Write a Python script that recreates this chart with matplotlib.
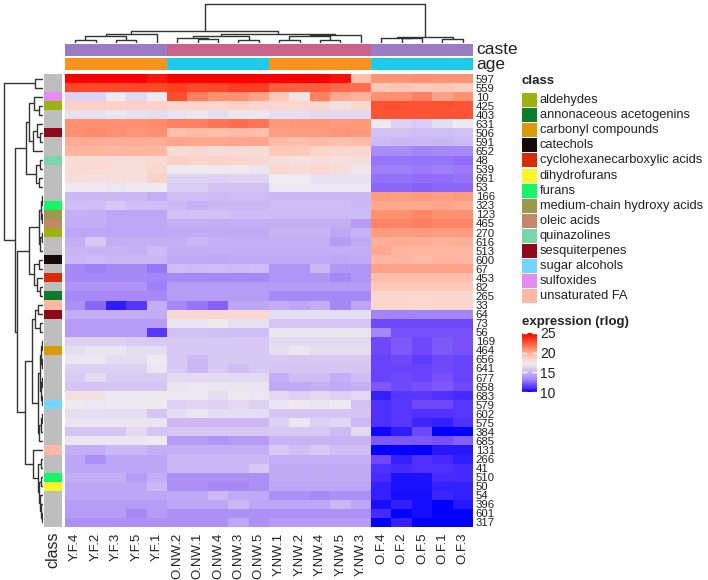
import numpy as np
import matplotlib
matplotlib.use("Agg")
import matplotlib.pyplot as plt
from matplotlib.colors import LinearSegmentedColormap, Normalize
from matplotlib.patches import Rectangle
from matplotlib.cm import ScalarMappable

plt.rcParams['font.family'] = ['Liberation Sans', 'DejaVu Sans']

W, H = 708, 580

# ---------------- data ----------------
columns = ["Y.F.4", "Y.F.2", "Y.F.3", "Y.F.5", "Y.F.1",
           "O.NW.2", "O.NW.1", "O.NW.4", "O.NW.3", "O.NW.5",
           "Y.NW.1", "Y.NW.2", "Y.NW.4", "Y.NW.5", "Y.NW.3",
           "O.F.4", "O.F.2", "O.F.5", "O.F.1", "O.F.3"]
caste = ["F"] * 5 + ["NW"] * 10 + ["F"] * 5
age = ["Y"] * 5 + ["O"] * 5 + ["Y"] * 5 + ["O"] * 5

rows = ["597", "559", "10", "425", "403", "631", "506", "591", "652", "48",
        "539", "661", "53", "166", "323", "123", "465", "270", "616", "513",
        "600", "67", "453", "82", "265", "33", "64", "73", "56", "169",
        "464", "656", "641", "677", "658", "683", "579", "602", "575", "384",
        "685", "131", "266", "41", "510", "50", "54", "396", "601", "317"]

row_class = ["", "", "sulfoxides", "aldehydes", "", "", "sesquiterpenes", "", "", "quinazolines",
             "", "", "", "", "furans", "medium-chain hydroxy acids", "oleic acids", "aldehydes", "", "",
             "catechols", "", "cyclohexanecarboxylic acids", "", "annonaceous acetogenins",
             "unsaturated FA", "sesquiterpenes", "", "", "",
             "carbonyl compounds", "", "", "", "", "", "sugar alcohols", "", "", "",
             "", "unsaturated FA", "", "", "furans", "dihydrofurans", "", "", "", ""]

class_names = ["aldehydes", "annonaceous acetogenins", "carbonyl compounds", "catechols",
               "cyclohexanecarboxylic acids", "dihydrofurans", "furans",
               "medium-chain hydroxy acids", "oleic acids", "quinazolines", "sesquiterpenes",
               "sugar alcohols", "sulfoxides", "unsaturated FA"]
class_colors = ["#9DB20E", "#0B7D2A", "#DA9A08", "#140A0A", "#D92A0A", "#F9F72A", "#18F46A",
                "#9C9A4A", "#C4876A", "#7AD6A8", "#8E0A18", "#74D5FF", "#E68AF4", "#FDB7A3"]

expr = np.array([
    [25, 25, 25, 25, 24.3, 25, 25, 25, 25, 25, 25, 25, 25, 24.5, 19.3, 20.8, 20.8, 20.9, 20.8, 20.8],
    [23, 23, 23, 23, 23, 23.2, 23, 23, 23.3, 23.3, 22.3, 22.3, 22.3, 22, 21.8, 19, 19.1, 19, 19, 18.8],
    [16.2, 16.2, 17, 16.4, 17, 22.8, 21.4, 21, 21, 20.2, 19, 17.6, 21.4, 20, 19.7, 21, 21, 21.4, 20.2, 21],
    [18.6, 18.6, 18.5, 18.6, 18.5, 18.3, 18.4, 18.3, 18.6, 18.4, 18.3, 18.3, 18.3, 17.7, 18.2, 22.7, 22.7, 22.7, 22.7, 22.6],
    [16.7, 16.7, 16.8, 16.7, 16.6, 16.7, 16.9, 16.6, 16.9, 16.8, 16.6, 16.6, 16.5, 16.5, 16.4, 22.6, 22.6, 22.6, 22.6, 22.6],
    [21, 21, 21, 21, 21.1, 21.4, 21.4, 21.7, 21.8, 21.7, 20.6, 20.7, 20.7, 20.5, 20.6, 17.1, 16.2, 16, 16.6, 17],
    [20.9, 21.1, 20.9, 20.8, 20.9, 19.3, 19.4, 19.3, 19.4, 19.3, 20.4, 20.5, 20.5, 20.8, 20.6, 15.6, 15.6, 15.5, 15.5, 15.6],
    [19.9, 19.9, 19.8, 19.9, 19.8, 20.1, 20, 20, 20.1, 20.1, 19.4, 19.3, 19.4, 19.3, 19.4, 15.3, 15.2, 15.2, 15.1, 15.3],
    [19.6, 19.6, 19.5, 19.6, 19.5, 18.1, 18.2, 18, 18.1, 18, 19, 18.9, 18.4, 18.3, 18.3, 13.4, 13.4, 13.2, 13.3, 13.3],
    [18.1, 18.1, 18, 18, 18.1, 18.6, 18.4, 18.5, 18.4, 18.2, 17.8, 17.6, 17.8, 17.7, 17.8, 12.8, 12.8, 12.7, 12.8, 12.6],
    [18.1, 18.1, 18, 18, 18.2, 17, 17, 17.1, 17, 16.9, 18.2, 18.1, 18.2, 18, 17.3, 13, 13, 12.9, 13, 12.9],
    [17.8, 17.7, 17.8, 17.7, 18.5, 16.3, 16.3, 16.2, 16.3, 16.3, 17, 17, 16.7, 16.7, 16.7, 12.7, 12.7, 12.6, 12.6, 12.7],
    [17, 17, 16.9, 17, 17, 16, 16, 15.6, 15.6, 15.6, 16.9, 16.9, 16.9, 16.9, 16.9, 12.5, 12.5, 12.4, 12.5, 12.5],
    [15.2, 15.2, 15.2, 15.2, 14.8, 15.4, 15.4, 15.3, 15.4, 15.4, 15.2, 15.2, 15.2, 15.2, 15.2, 20.5, 20.4, 20.6, 20.4, 20.5],
    [15.5, 15.4, 15.9, 15.5, 15.5, 15.2, 14.9, 15.2, 15.2, 15.2, 15.4, 15.4, 15.4, 15.4, 15.2, 20, 20, 20, 20.1, 19.9],
    [14.8, 14.8, 14.4, 14.4, 14.4, 15.6, 15.6, 15.6, 15.4, 15.4, 15.3, 15.3, 15.3, 15.3, 15.3, 21, 21, 21.2, 21, 21],
    [14.7, 14.7, 14.5, 14.5, 14.5, 14.8, 14.8, 14.7, 14.8, 14.8, 14.8, 14.8, 14.8, 14.7, 14, 21.3, 21.3, 21.4, 21.3, 21.3],
    [14.4, 14.4, 14.4, 14.4, 14.4, 14.6, 14.6, 14.6, 14.6, 14.6, 15, 15, 15, 14.5, 15, 20.5, 20.5, 20.6, 20.5, 20.5],
    [14.8, 15.9, 14.7, 14.8, 14.8, 14.8, 15.1, 14.9, 14.8, 14.8, 14.8, 14.8, 14.8, 14.0, 14.6, 19.8, 19.9, 19.8, 19.7, 19.8],
    [15, 15, 15, 14.9, 15.3, 14.8, 14.8, 14.8, 14.8, 14.8, 14.8, 14.8, 14.8, 14.8, 14.7, 20, 19.6, 19.6, 19.5, 19.6],
    [15.2, 15.3, 15.1, 15.2, 15.2, 14.6, 14.6, 14.5, 14.6, 14.6, 14.6, 14.6, 14.6, 14.5, 14.6, 19.5, 19.5, 19.4, 19.5, 19.5],
    [13.3, 13, 13.3, 13.3, 12.8, 15.4, 15.3, 15.4, 15.3, 15.4, 13.8, 13.8, 15.2, 13.9, 13.8, 20.3, 20.3, 20.3, 20.3, 20.3],
    [13.3, 13.3, 13.3, 13.3, 13.2, 13.3, 13.3, 13.3, 13.3, 13.3, 13.7, 13.7, 13.7, 13.3, 13.7, 19.3, 19.3, 19.3, 19.3, 19.3],
    [13.7, 13.7, 13.7, 13.7, 13, 14, 14, 14, 14, 14, 14, 14, 14, 14, 14, 19, 19, 19, 19, 19],
    [13.3, 13.3, 13.3, 13.3, 13.3, 14, 14, 14, 14, 14, 13.3, 13.3, 13.3, 13.3, 13.3, 18.2, 18.2, 18.2, 18.2, 18.2],
    [13.6, 12.5, 10.6, 11.2, 14.8, 13.3, 12.8, 12.4, 14.4, 14.4, 14.8, 14.4, 14.8, 13.3, 14.4, 18.3, 18.3, 18.2, 18.3, 18.3],
    [14.8, 14.8, 14.8, 14.8, 14.7, 18.2, 18.2, 18.2, 18.2, 18.2, 16.6, 16.6, 16.6, 16.6, 16.6, 13.2, 13.2, 13.2, 13.2, 13.2],
    [14, 14, 14, 14, 14, 16.8, 16.8, 17, 16.7, 16.7, 15.7, 15.7, 15.7, 15.7, 15.7, 11.8, 11.7, 11.8, 11.8, 11.8],
    [14, 14, 14, 14, 11.2, 15.6, 15.6, 15.5, 15.4, 15.4, 16.8, 16.8, 16.8, 16.8, 16.8, 13.3, 12, 12, 12, 12],
    [16.2, 16.2, 16.2, 16, 15.9, 15.9, 15.9, 15.9, 15.9, 15.9, 16.5, 16.5, 16.5, 16.5, 16.5, 11.8, 12.2, 11.8, 12.2, 12],
    [16.6, 16.8, 16.8, 16.6, 16.6, 15.9, 15.9, 15.9, 15.9, 15.9, 16.6, 16.9, 16.6, 16.6, 16.6, 11.8, 12.2, 11.8, 12.2, 12],
    [16.9, 16.9, 16.6, 16.6, 17, 15.9, 15.2, 15.9, 15.9, 15.9, 15.9, 15.9, 15.9, 15.9, 15.9, 11.6, 11.8, 11.4, 11.8, 11.6],
    [16.2, 16.2, 16.2, 16.2, 16.9, 15.9, 15.2, 15.9, 15.5, 15.9, 15.7, 15.7, 15.7, 15.7, 15.7, 11.6, 11.6, 11.6, 11.8, 11.6],
    [16, 16.6, 16, 16, 16, 16.5, 16.5, 16.5, 16.5, 16.5, 14.8, 15.4, 15.4, 14.8, 15.4, 11.6, 11.8, 11.6, 12, 11.6],
    [15.7, 15.7, 15.7, 15.7, 15.7, 16.8, 16.9, 16.9, 16.8, 16.8, 14.6, 14.6, 14.8, 14.6, 14.8, 12.2, 11.8, 12, 12.2, 11.8],
    [17.7, 17.6, 17, 17, 17, 16.9, 16.9, 16.6, 17.1, 16.9, 16.4, 16.2, 16.4, 16.2, 16.4, 10.7, 11.2, 11.2, 11, 10.9],
    [17, 16.9, 17, 17, 17, 16.2, 16.3, 16.2, 16.4, 16.2, 16.8, 17.1, 16.8, 17, 15.6, 11, 11.2, 11.8, 11.8, 11.2],
    [16.6, 16.6, 16.6, 16.6, 15.7, 16.6, 16.9, 16.6, 16.6, 16.6, 15.7, 15.7, 15.7, 15.7, 15.7, 11, 11.2, 11, 11.1, 11.2],
    [16.8, 16.8, 16.8, 16.8, 16.8, 15.2, 15.2, 15.2, 15.2, 15.2, 16.2, 16.9, 16.2, 16.4, 15.2, 11, 11.2, 10.8, 10.7, 11],
    [15.7, 15.7, 15.7, 16.5, 15.7, 15.9, 15.9, 15.9, 15.9, 15.9, 15.9, 15.9, 15.9, 15.3, 16.5, 10.2, 10.6, 11.8, 10, 10],
    [16.9, 16.9, 16.9, 16.9, 17, 14, 14, 13.7, 14, 14, 15, 15, 15, 15, 15, 12.2, 12.2, 12.2, 12, 12.4],
    [14.8, 14.8, 15.1, 15.1, 14.8, 14.8, 14.8, 14.8, 14.8, 14.8, 15.9, 15.5, 15.9, 15.5, 15.5, 10, 10.1, 10, 10.5, 10.5],
    [14.4, 13.6, 14.4, 14.4, 14.4, 15.2, 15.2, 15.2, 15.2, 15.2, 14.8, 14.8, 14.8, 14.8, 14.8, 11.8, 10.7, 11, 10.9, 10.6],
    [14.4, 14.4, 14.4, 14.4, 14.4, 15.2, 15.2, 15.2, 15.2, 15.9, 14.6, 14.6, 14.6, 14.6, 14.6, 11, 10.9, 11, 11, 10.9],
    [14.8, 14.8, 14.8, 14, 14.8, 13.6, 13.6, 13.6, 13.6, 13.6, 14.6, 14.6, 14.6, 14.6, 14.6, 10.9, 10.4, 10.4, 10.9, 10.9],
    [14.4, 14.4, 14.4, 14.4, 15.2, 13.6, 13.6, 13.3, 13.3, 13.6, 14.4, 14.4, 14.4, 14.4, 14.4, 10.7, 10.4, 10.4, 10.7, 10.7],
    [14.4, 14.4, 14.4, 14.4, 14.4, 14.6, 14.6, 15.2, 14.6, 14.6, 13.6, 13.6, 13.3, 13.6, 13.6, 10.7, 10.3, 10.3, 10.8, 10.7],
    [14, 14, 14, 14, 14, 14.4, 14.4, 14.4, 15.2, 14.4, 14.4, 14.4, 14.4, 15.2, 14.4, 10.3, 10.7, 10.3, 10, 10.5],
    [14, 14, 14, 13.3, 14, 13.6, 13.6, 13.6, 13.6, 13.6, 13.6, 13.6, 13.6, 13.6, 13.6, 10.9, 10, 10.3, 10, 10],
    [13.6, 13.6, 13.6, 13.6, 13.6, 13.6, 13.6, 13.6, 14.4, 13.6, 14, 14, 14, 14, 14, 10, 10.7, 10, 10, 10],
])

# dendrogram trees: (left, right, merge height); leaves are positions
col_tree = (((((0, 1, 2.7), (2, 3, 2.7), 6.7), 4, 8.7),
             (((5, (6, 7, 4.3), 4.8), (8, 9, 2.7), 7.5),
              (((10, 11, 2.7), (12, 13, 2.7), 6.7), 14, 8.3), 9.3), 11.7),
            ((15, (16, 17, 4.7), 5.3), (18, 19, 4.3), 5.8), 38.7)

U = (((2, (3, 4, 4), 9), ((5, (6, 7, 3), 6), 8, 10), 14), ((9, 10, 3), (11, 12, 4), 7), 17)
M = (((((13, 14, 1), (15, 16, 1.5), 2.5), ((17, 18, 1.5), 19, 3), 4)),
     ((20, 21, 4), (22, (23, 24, 3), 6), 9), 14)
N1 = (((25, 26, 5), (27, 28, 3), 8),
      ((((29, 30, 1), (31, 32, 1), 2), ((33, 34, 1.5), (35, 36, 1), 2.5), 3.5),
       (((37, 38, 1), 39, 2), 40, 4), 5), 11)
N2 = (41, ((42, 43, 2), ((44, 45, 2), (46, (47, (48, 49, 1), 2), 3), 4), 5), 10)
row_tree = ((0, 1, 8), (U, (M, (N1, N2, 18), 26.5), 28), 39)

# colour scale anchors (blue - white - red)
scale_values = [10, 11, 12, 13, 14, 15, 16, 17, 18, 19, 20, 21, 22, 23, 24, 25]
scale_colors = ["#0000FF", "#5030FF", "#7850FA", "#A080F8", "#B69CF5", "#C8B4F5", "#D9CCF4",
                "#EEEAF0", "#F8DCD8", "#FFC8B8", "#FFA890", "#FF9070", "#FF6848", "#FF4828",
                "#FF2010", "#FF0000"]
caste_colors = {"F": "#9B7BC4", "NW": "#C9638A"}
age_colors = {"Y": "#F7931E", "O": "#1ECBEA"}

# ---------------- figure ----------------
vmin, vmax = scale_values[0], scale_values[-1]
cmap = LinearSegmentedColormap.from_list(
    "bwr_lab", [((v - vmin) / (vmax - vmin), c) for v, c in zip(scale_values, scale_colors)])
norm = Normalize(vmin, vmax)

fig = plt.figure(figsize=(W / 100, H / 100), dpi=100)


def px_axes(x0, y0, x1, y1):
    return fig.add_axes([x0 / W, 1 - y1 / H, (x1 - x0) / W, (y1 - y0) / H])


HX0, HX1, HY0, HY1 = 65, 473, 74, 527
nr, nc = expr.shape
TXT = "#222222"

# heatmap
ax = px_axes(HX0, HY0, HX1, HY1)
ax.pcolormesh(np.arange(nc + 1), np.arange(nr + 1), expr, cmap=cmap, norm=norm)
ax.set_xlim(0, nc)
ax.set_ylim(nr, 0)
ax.set_xticks(np.arange(nc) + 0.5)
ax.set_xticklabels(columns, rotation=90, fontsize=9.5, color=TXT)
ax.set_yticks(np.arange(nr) + 0.5)
ax.set_yticklabels(rows, fontsize=8.2, color=TXT)
ax.yaxis.tick_right()
ax.tick_params(length=0, pad=2)
ax.tick_params(axis="x", pad=4)
for s in ax.spines.values():
    s.set_visible(False)

# column annotations
for (y0, y1, vals, cmapd, name) in [(43.5, 56.5, caste, caste_colors, "caste"),
                                    (57.5, 70.5, age, age_colors, "age")]:
    a = px_axes(HX0, y0, HX1, y1)
    rgb = np.array([[matplotlib.colors.to_rgb(cmapd[v]) for v in vals]])
    a.imshow(rgb, aspect="auto", extent=(0, nc, 1, 0), interpolation="nearest")
    a.set_axis_off()
    fig.text((HX1 + 3) / W, 1 - ((y0 + y1) / 2) / H, name, fontsize=12.5,
             va="center", ha="left", color=TXT)

# row class annotation
a = px_axes(44, HY0, 62, HY1)
cls_map = dict(zip(class_names, class_colors))
rgb = np.array([[matplotlib.colors.to_rgb(cls_map.get(c, "#BEBEBE"))] for c in row_class])
a.imshow(rgb, aspect="auto", extent=(0, 1, nr, 0), interpolation="nearest")
a.set_axis_off()
fig.text(53 / W, 1 - 531 / H, "class", rotation=90, fontsize=11.5, va="top", ha="center",
         color=TXT)


def draw_tree(axd, node, horizontal):
    if isinstance(node, int):
        return node + 0.5, 0.0
    l, r, h = node
    pl, hl = draw_tree(axd, l, horizontal)
    pr, hr = draw_tree(axd, r, horizontal)
    if horizontal:
        axd.plot([pl, pl, pr, pr], [hl, h, h, hr], color="#333333", lw=1.0,
                 solid_capstyle="butt")
    else:
        axd.plot([hl, h, h, hr], [pl, pl, pr, pr], color="#333333", lw=1.0,
                 solid_capstyle="butt")
    return (pl + pr) / 2, h


# top dendrogram
d1 = px_axes(HX0, 0, HX1, 43)
draw_tree(d1, col_tree, True)
d1.set_xlim(0, nc)
d1.set_ylim(0, 43)
d1.set_axis_off()

# left dendrogram
d2 = px_axes(0, HY0, 43, HY1)
draw_tree(d2, row_tree, False)
d2.set_ylim(nr, 0)
d2.set_xlim(43, 0)
d2.set_axis_off()

# class legend
lg = px_axes(515, 65, 708, 420)
lg.set_xlim(515, 708)
lg.set_ylim(420, 65)
lg.set_axis_off()
lg.text(522, 81, "class", fontsize=9.5, fontweight="bold", va="center", ha="left", color=TXT)
for i, (nm, col) in enumerate(zip(class_names, class_colors)):
    yc = 100 + i * 15.1
    lg.add_patch(Rectangle((522, yc - 7), 15, 14, facecolor=col, edgecolor="none"))
    lg.text(540, yc, nm, fontsize=9.3, va="center", ha="left", color=TXT)
lg.text(522, 322, "expression (rlog)", fontsize=9.5, fontweight="bold", va="center",
        ha="left", color=TXT)

# colour bar
cax = px_axes(522, 333, 537, 392)
cb = fig.colorbar(ScalarMappable(norm=norm, cmap=cmap), cax=cax, ticks=[10, 15, 20, 25])
cb.outline.set_visible(False)
cax.tick_params(axis="y", direction="in", color="white", length=3.5, width=1,
                labelsize=10, labelcolor=TXT, pad=2, left=True, right=True)

fig.savefig("out.png", dpi=100)
